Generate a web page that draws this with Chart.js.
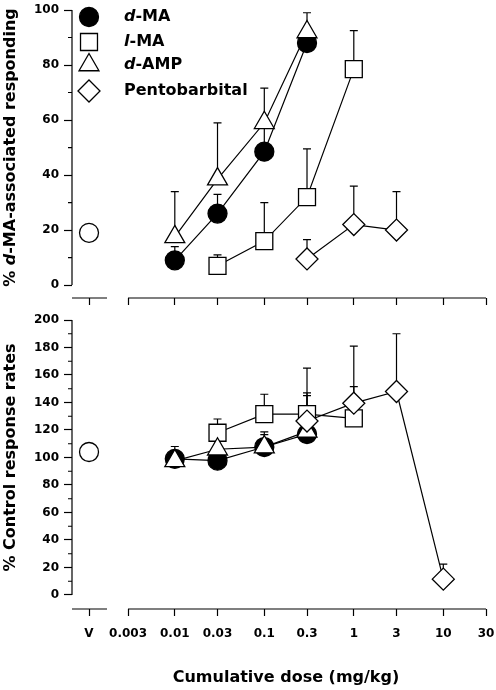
<!DOCTYPE html>
<html><head><meta charset="utf-8">
<script src="https://cdn.jsdelivr.net/npm/chart.js@4.4.1/dist/chart.umd.min.js"></script>
<style>
html,body{margin:0;padding:0;background:#fff;width:496px;height:690px;overflow:hidden}
canvas{position:absolute;left:0}
#top{top:0}
#bot{top:312px}
</style></head><body>
<canvas id="top" width="496" height="312"></canvas>
<canvas id="bot" width="496" height="378"></canvas>
<script>
// ---------- data ----------
const tickValues = [0.003, 0.01, 0.03, 0.1, 0.3, 1, 3, 10, 30];
const tickLabels = ['0.003', '0.01', '0.03', '0.1', '0.3', '1', '3', '10', '30'];
const vehicleLabel = 'V';
const seriesNames = ['d-MA', 'l-MA', 'd-AMP', 'Pentobarbital'];
const legendParts = [[['d', true], ['-MA', false]], [['l', true], ['-MA', false]], [['d', true], ['-AMP', false]], [['Pentobarbital', false]]];

const dmaDoses = [0.01, 0.03, 0.1, 0.3];
const lmaDoses = [0.03, 0.1, 0.3, 1];
const dampDoses = [0.01, 0.03, 0.1, 0.3];
const pentoDosesTop = [0.3, 1, 3];
const pentoDosesBottom = [0.3, 1, 3, 10];

// top panel: % d-MA-associated responding
const dmaDrug = [9, 26, 48.5, 88];
const dmaDrugSem = [5, 7, 9, 4];
const lmaDrug = [7, 16, 32, 78.5];
const lmaDrugSem = [4, 14, 17.5, 14];
const dampDrug = [17.5, 38.5, 59, 92];
const dampDrugSem = [16.5, 20.5, 12.6, 7];
const pentoDrug = [9.5, 22, 20];
const pentoDrugSem = [7, 14, 14];
const vehicleDrug = 19;

// bottom panel: % control response rates
const dmaRate = [99, 97.7, 107.6, 117];
const dmaRateSem = [3, 4, 9, 28];
const lmaRate = [118, 131.5, 131.5, 128.5];
const lmaRateSem = [10, 14.5, 33.5, 23];
const dampRate = [97.5, 106, 107.6, 119];
const dampRateSem = [10.5, 12, 11, 5];
const pentoRate = [126.5, 139.5, 148, 11.5];
const pentoRateSem = [20.5, 41.5, 42, 11];
const vehicleRate = 104;

const topYTicks = [0, 20, 40, 60, 80, 100];
const topYMinor = [10, 30, 50, 70, 90];
const botYTicks = [0, 20, 40, 60, 80, 100, 120, 140, 160, 180, 200];
const botYMinor = [10, 30, 50, 70, 90, 110, 130, 150, 170, 190];

// ---------- layout constants ----------
const VEHICLE_X = 0.0011;   // placement of the vehicle point on the broken axis
const X_MIN = 0.00071;
const X_MAX = 30;
const FONT = '"DejaVu Sans"';

function pts(xs, ys) { return xs.map((x, i) => ({ x: x, y: ys[i] })); }

function drawRich(ctx, parts, x, y, size, align) {
  const fonts = parts.map(p => (p[1] ? 'italic ' : '') + 'bold ' + size + 'px ' + FONT);
  let w = 0;
  parts.forEach((p, i) => { ctx.font = fonts[i]; w += ctx.measureText(p[0]).width; });
  let cx = align === 'center' ? x - w / 2 : x;
  ctx.textBaseline = 'middle'; ctx.textAlign = 'left'; ctx.fillStyle = '#000';
  parts.forEach((p, i) => { ctx.font = fonts[i]; ctx.fillText(p[0], cx, y); cx += ctx.measureText(p[0]).width; });
}

const styles = [
  { pointStyle: 'circle', radius: 9.5, bg: '#000' },
  { pointStyle: 'rect', radius: 12, bg: '#fff' },
  { pointStyle: 'triangle', radius: 11.5, bg: '#fff' },
  { pointStyle: 'rectRot', radius: 11, bg: '#fff' }
];

function ds(i, xs, ys, sem, order) {
  const s = styles[i];
  return {
    label: seriesNames[i], data: pts(xs, ys), sem: sem, order: order,
    showLine: true, borderColor: '#000', borderWidth: 1.2, fill: false, tension: 0,
    pointStyle: s.pointStyle, pointRadius: s.radius, pointBackgroundColor: s.bg,
    pointBorderColor: '#000', pointBorderWidth: 1.3, clip: false
  };
}
function vehicleDs(v) {
  return { label: 'Vehicle', data: [{ x: VEHICLE_X, y: v }], showLine: false, order: 0,
    pointStyle: 'circle', pointRadius: 9.5, pointBackgroundColor: '#fff', pointBorderColor: '#000',
    pointBorderWidth: 1.3, clip: false };
}

const errorBars = {
  id: 'errorBars',
  beforeDatasetsDraw(chart) {
    const ctx = chart.ctx, xs = chart.scales.x, ys = chart.scales.y;
    ctx.save(); ctx.strokeStyle = '#000'; ctx.lineWidth = 1.2;
    chart.data.datasets.forEach(d => {
      if (!d.sem) return;
      d.data.forEach((p, i) => {
        const e = d.sem[i]; if (!e) return;
        const px = xs.getPixelForValue(p.x), p0 = ys.getPixelForValue(p.y), p1 = ys.getPixelForValue(p.y + e);
        ctx.beginPath(); ctx.moveTo(px, p0); ctx.lineTo(px, p1);
        ctx.moveTo(px - 4, p1); ctx.lineTo(px + 4, p1); ctx.stroke();
      });
    });
    ctx.restore();
  }
};

const axisDeco = {
  id: 'axisDeco',
  afterDraw(chart, args, o) {
    const ctx = chart.ctx, x = chart.scales.x, y = chart.scales.y, ca = chart.chartArea;
    ctx.save(); ctx.strokeStyle = '#000'; ctx.lineWidth = 1.2;
    ctx.beginPath();
    ctx.moveTo(ca.left, y.getPixelForValue(o.yTop)); ctx.lineTo(ca.left, y.getPixelForValue(0));
    o.minor.forEach(v => { const p = y.getPixelForValue(v); ctx.moveTo(ca.left - 4, p); ctx.lineTo(ca.left, p); });
    const yb = ca.bottom;
    ctx.moveTo(ca.left, yb); ctx.lineTo(x.getPixelForValue(VEHICLE_X) + 18, yb);
    ctx.moveTo(x.getPixelForValue(tickValues[0]), yb); ctx.lineTo(x.getPixelForValue(tickValues[tickValues.length - 1]), yb);
    ctx.stroke();
    // y title
    const cy = (y.getPixelForValue(0) + y.getPixelForValue(o.yTop)) / 2;
    ctx.save(); ctx.translate(11, cy); ctx.rotate(-Math.PI / 2);
    drawRich(ctx, o.yTitle, 0, 0, 16, 'center');
    ctx.restore();
    if (o.xTitle) drawRich(ctx, o.xTitle, 286, o.xTitleY, 16, 'center');
    if (o.legend) {
      const ly = [17, 42, 65, 91];
      styles.forEach((s, i) => {
        ctx.fillStyle = s.bg; ctx.strokeStyle = '#000'; ctx.lineWidth = 1.3;
        Chart.helpers.drawPoint(ctx, { pointStyle: s.pointStyle, radius: s.radius, rotation: 0, borderWidth: 1.3 }, 89, ly[i]);
        drawRich(ctx, legendParts[i], 124, ly[i], 16, 'left');
      });
    }
    ctx.restore();
  }
};

function options(c) {
  return {
    responsive: false, animation: false,
    layout: { autoPadding: false, padding: { left: 0, right: 10, top: c.padTop, bottom: 0 } },
    plugins: { legend: { display: false }, tooltip: { enabled: false }, axisDeco: c.deco },
    scales: {
      x: {
        type: 'logarithmic', min: X_MIN, max: X_MAX, bounds: 'data',
        afterBuildTicks: s => { s.ticks = [VEHICLE_X].concat(tickValues).map(v => ({ value: v })); },
        afterFit: s => { s.height = c.xHeight; s.paddingLeft = 0; s.paddingRight = 0; },
        border: { display: false },
        grid: { display: true, drawOnChartArea: false, drawTicks: true, tickLength: 7, color: '#000', tickColor: '#000', tickWidth: 1.2 },
        ticks: { display: c.xLabels, autoSkip: false, maxRotation: 0, minRotation: 0, padding: 11, color: '#000',
          font: { family: 'DejaVu Sans', weight: 'bold', size: 12 },
          callback: (v, i) => i === 0 ? vehicleLabel : tickLabels[i - 1] }
      },
      y: {
        type: 'linear', min: c.yMin, max: c.yMax, bounds: 'data',
        afterBuildTicks: s => { s.ticks = c.yTicks.map(v => ({ value: v })); },
        afterFit: s => { s.width = 72; s.paddingTop = 0; s.paddingBottom = 0; },
        border: { display: false },
        grid: { display: true, drawOnChartArea: false, drawTicks: true, tickLength: 8, color: '#000', tickColor: '#000', tickWidth: 1.2 },
        ticks: { padding: 5, color: '#000', font: { family: 'DejaVu Sans', weight: 'bold', size: 12 }, callback: v => String(v) }
      }
    }
  };
}

new Chart(document.getElementById('top'), {
  type: 'line',
  data: { datasets: [
    ds(0, dmaDoses, dmaDrug, dmaDrugSem, 4),
    ds(1, lmaDoses, lmaDrug, lmaDrugSem, 3),
    ds(2, dampDoses, dampDrug, dampDrugSem, 2),
    ds(3, pentoDosesTop, pentoDrug, pentoDrugSem, 1),
    vehicleDs(vehicleDrug)
  ] },
  options: options({ padTop: 10, xHeight: 14, xLabels: false, yMin: -4.7, yMax: 100, yTicks: topYTicks,
    deco: { yTop: 100, minor: topYMinor, yTitle: [['% ', false], ['d', true], ['-MA-associated responding', false]], legend: true } }),
  plugins: [errorBars, axisDeco]
});

new Chart(document.getElementById('bot'), {
  type: 'line',
  data: { datasets: [
    ds(0, dmaDoses, dmaRate, dmaRateSem, 4),
    ds(1, lmaDoses, lmaRate, lmaRateSem, 3),
    ds(2, dampDoses, dampRate, dampRateSem, 2),
    ds(3, pentoDosesBottom, pentoRate, pentoRateSem, 1),
    vehicleDs(vehicleRate)
  ] },
  options: options({ padTop: 8, xHeight: 81, xLabels: true, yMin: -10.2, yMax: 200, yTicks: botYTicks,
    deco: { yTop: 200, minor: botYMinor, yTitle: [['% Control response rates', false]], xTitle: [['Cumulative dose (mg/kg)', false]], xTitleY: 366 } }),
  plugins: [errorBars, axisDeco]
});
</script>
</body></html>
